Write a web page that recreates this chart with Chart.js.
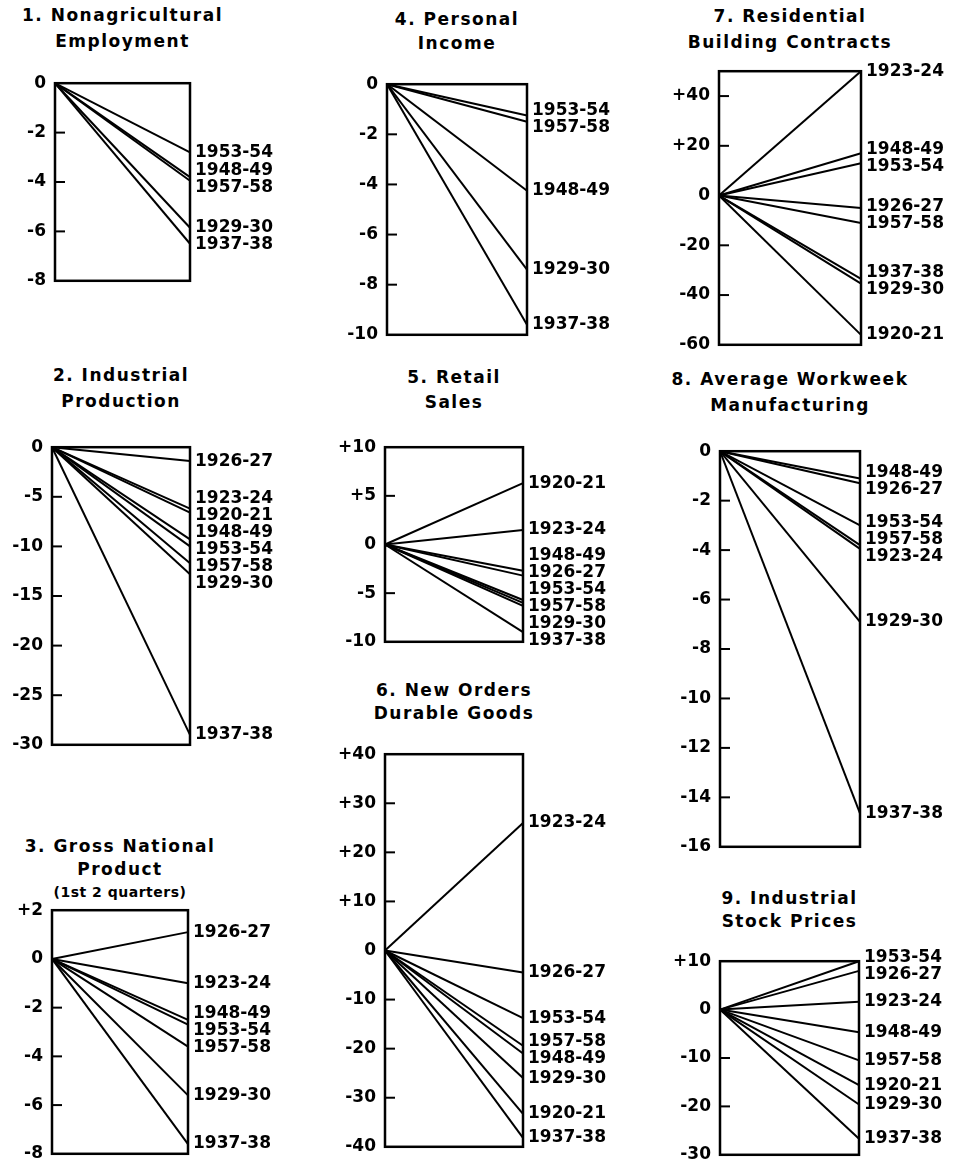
<!DOCTYPE html>
<html>
<head>
<meta charset="utf-8">
<script src="https://cdn.jsdelivr.net/npm/chart.js@4.4.1/dist/chart.umd.min.js"></script>
<style>
  body { margin: 0; background: #fff; width: 956px; height: 1170px; position: relative; overflow: hidden; }
  canvas { position: absolute; }
  .tline { position: absolute; width: 320px; text-align: center; font-family: "DejaVu Sans", sans-serif;
           font-weight: bold; font-size: 17px; line-height: 20px; letter-spacing: 1.5px; color: #000; white-space: nowrap; }
  .tline.small { font-size: 14px; letter-spacing: 0.5px; }
</style>
</head>
<body>
<script>
// 1. Nonagricultural Employment
const employmentPeriods = ['1953-54', '1948-49', '1957-58', '1929-30', '1937-38'];
const employmentChange = [-2.8, -3.8, -3.95, -5.85, -6.5];
const employmentTicks = [0, -2, -4, -6, -8];

// 2. Industrial Production
const productionPeriods = ['1926-27', '1923-24', '1920-21', '1948-49', '1953-54', '1957-58', '1929-30', '1937-38'];
const productionChange = [-1.4, -6.2, -6.6, -9.3, -10, -11.7, -12.8, -29];
const productionTicks = [0, -5, -10, -15, -20, -25, -30];

// 3. Gross National Product (1st 2 quarters)
const gnpPeriods = ['1926-27', '1923-24', '1948-49', '1953-54', '1957-58', '1929-30', '1937-38'];
const gnpChange = [1.1, -1.0, -2.5, -2.7, -3.6, -5.6, -7.6];
const gnpTicks = [2, 0, -2, -4, -6, -8];

// 4. Personal Income
const incomePeriods = ['1953-54', '1957-58', '1948-49', '1929-30', '1937-38'];
const incomeChange = [-1.25, -1.5, -4.25, -7.4, -9.6];
const incomeTicks = [0, -2, -4, -6, -8, -10];

// 5. Retail Sales
const retailPeriods = ['1920-21', '1923-24', '1948-49', '1926-27', '1953-54', '1957-58', '1929-30', '1937-38'];
const retailChange = [6.3, 1.5, -2.7, -3.2, -5.7, -6.0, -6.3, -9.0];
const retailTicks = [10, 5, 0, -5, -10];

// 6. New Orders Durable Goods
const ordersPeriods = ['1923-24', '1926-27', '1953-54', '1957-58', '1948-49', '1929-30', '1920-21', '1937-38'];
const ordersChange = [26, -4.5, -13.8, -19.4, -21, -26, -33.3, -38.2];
const ordersTicks = [40, 30, 20, 10, 0, -10, -20, -30, -40];

// 7. Residential Building Contracts
const residentialPeriods = ['1923-24', '1948-49', '1953-54', '1926-27', '1957-58', '1937-38', '1929-30', '1920-21'];
const residentialChange = [50, 17, 13, -5, -11, -33.5, -35.4, -56];
const residentialTicks = [40, 20, 0, -20, -40, -60];

// 8. Average Workweek Manufacturing
const workweekPeriods = ['1948-49', '1926-27', '1953-54', '1957-58', '1923-24', '1929-30', '1937-38'];
const workweekChange = [-1.1, -1.3, -3.0, -3.8, -3.95, -6.9, -14.65];
const workweekTicks = [0, -2, -4, -6, -8, -10, -12, -14, -16];

// 9. Industrial Stock Prices
const stockPeriods = ['1953-54', '1926-27', '1923-24', '1948-49', '1957-58', '1920-21', '1929-30', '1937-38'];
const stockChange = [10, 8, 1.6, -4.7, -10.5, -15.6, -19.6, -26.7];
const stockTicks = [10, 0, -10, -20, -30];

// panel list: data + where the box sits on the page
const panels = [
  { title: ['1. Nonagricultural', 'Employment'], titleY: [15, 41], periods: employmentPeriods, values: employmentChange, ticks: employmentTicks, min: -8, max: 0, box: [55, 190, 78, 286] },
  { title: ['2. Industrial', 'Production'], titleY: [375, 401], periods: productionPeriods, values: productionChange, ticks: productionTicks, min: -30, max: 0, box: [52, 190, 442, 750] },
  { title: ['3. Gross National', 'Product', '(1st 2 quarters)'], titleY: [846, 869, 892], periods: gnpPeriods, values: gnpChange, ticks: gnpTicks, min: -8, max: 2, box: [52, 188, 905, 1159] },
  { title: ['4. Personal', 'Income'], titleY: [19, 43], periods: incomePeriods, values: incomeChange, ticks: incomeTicks, min: -10, max: 0, box: [387, 527, 79, 340] },
  { title: ['5. Retail', 'Sales'], titleY: [377, 402], periods: retailPeriods, values: retailChange, ticks: retailTicks, min: -10, max: 10, box: [385, 523, 442, 647] },
  { title: ['6. New Orders', 'Durable Goods'], titleY: [690, 713], periods: ordersPeriods, values: ordersChange, ticks: ordersTicks, min: -40, max: 40, box: [385, 523, 749, 1152] },
  { title: ['7. Residential', 'Building Contracts'], titleY: [16, 42], periods: residentialPeriods, values: residentialChange, ticks: residentialTicks, min: -60, max: 50, box: [719, 861, 66, 350] },
  { title: ['8. Average Workweek', 'Manufacturing'], titleY: [379, 405], periods: workweekPeriods, values: workweekChange, ticks: workweekTicks, min: -16, max: 0, box: [720, 860, 446, 852] },
  { title: ['9. Industrial', 'Stock Prices'], titleY: [898, 921], periods: stockPeriods, values: stockChange, ticks: stockTicks, min: -30, max: 10, box: [720, 859, 956, 1160] }
];

const AXIS_W = 60, PAD_V = 14, PAD_R = 90, LABEL_GAP = 17;
const FONT = '"DejaVu Sans", sans-serif';

// spread end labels so they don't overlap: merge overlapping groups around their mean
function spreadLabels(targets, gap) {
  const order = targets.map((t, i) => i).sort((a, b) => targets[a] - targets[b]);
  let groups = order.map(i => ({ items: [i], center: targets[i] }));
  let merged = true;
  while (merged) {
    merged = false;
    for (let k = 0; k < groups.length - 1; k++) {
      const a = groups[k], b = groups[k + 1];
      const aBottom = a.center + (a.items.length - 1) * gap / 2;
      const bTop = b.center - (b.items.length - 1) * gap / 2;
      if (bTop - aBottom < gap) {
        const items = a.items.concat(b.items);
        const center = items.reduce((s, i) => s + targets[i], 0) / items.length;
        groups.splice(k, 2, { items: items, center: center });
        merged = true;
        break;
      }
    }
  }
  const pos = [];
  groups.forEach(g => {
    g.items.forEach((i, k) => { pos[i] = g.center + (k - (g.items.length - 1) / 2) * gap; });
  });
  return pos;
}

// box, inner tick marks and the period labels at the right end
const decorPlugin = {
  id: 'decor',
  afterDatasetsDraw(chart) {
    const ctx = chart.ctx;
    const area = chart.chartArea;
    const y = chart.scales.y;
    ctx.save();
    ctx.strokeStyle = '#000';
    ctx.lineWidth = 2;
    y.ticks.forEach(t => {
      if (t.value === y.min || t.value === y.max || t.value === 0) return;
      const py = y.getPixelForValue(t.value);
      ctx.beginPath();
      ctx.moveTo(area.left, py);
      ctx.lineTo(area.left + 10, py);
      ctx.stroke();
    });
    ctx.lineWidth = 2.5;
    ctx.strokeRect(area.left, area.top, area.right - area.left, area.bottom - area.top);

    const sets = chart.data.datasets;
    const targets = sets.map(ds => y.getPixelForValue(ds.data[1]));
    const pos = spreadLabels(targets, LABEL_GAP);
    ctx.fillStyle = '#000';
    ctx.font = 'bold 17px ' + FONT;
    ctx.textAlign = 'left';
    ctx.textBaseline = 'middle';
    sets.forEach((ds, i) => ctx.fillText(ds.label, area.right + 5, pos[i]));
    ctx.restore();
  }
};

function fmtTick(v) {
  if (v > 0) return '+' + v;
  if (v < 0) return '-' + Math.abs(v);
  return '0';
}

panels.forEach(p => {
  const [left, right, top, bottom] = p.box;

  p.title.forEach((line, i) => {
    const d = document.createElement('div');
    d.className = 'tline' + (i === 2 ? ' small' : '');
    d.textContent = line;
    d.style.left = ((left + right) / 2 - 160) + 'px';
    d.style.top = (p.titleY[i] - 10) + 'px';
    document.body.appendChild(d);
  });

  const canvas = document.createElement('canvas');
  canvas.width = right - left + AXIS_W + PAD_R;
  canvas.height = bottom - top + PAD_V * 2;
  canvas.style.left = (left - AXIS_W) + 'px';
  canvas.style.top = (top - PAD_V) + 'px';
  document.body.appendChild(canvas);

  new Chart(canvas.getContext('2d'), {
    type: 'line',
    data: {
      labels: ['start', 'end'],
      datasets: p.periods.map((name, i) => ({
        label: name,
        data: [0, p.values[i]],
        borderColor: '#000',
        borderWidth: 2,
        pointRadius: 0,
        tension: 0,
        fill: false
      }))
    },
    options: {
      responsive: false,
      devicePixelRatio: 1,
      animation: false,
      layout: { padding: { top: PAD_V, bottom: PAD_V, right: PAD_R, left: 0 } },
      plugins: { legend: { display: false }, tooltip: { enabled: false }, title: { display: false } },
      scales: {
        x: { display: false },
        y: {
          min: p.min,
          max: p.max,
          afterBuildTicks: scale => { scale.ticks = p.ticks.map(v => ({ value: v })); },
          afterFit: scale => { scale.width = AXIS_W; },
          grid: { display: false, drawTicks: false },
          border: { display: false },
          ticks: {
            padding: 9,
            color: '#000',
            font: { family: FONT, size: 17, weight: 'bold' },
            callback: v => fmtTick(v)
          }
        }
      }
    },
    plugins: [decorPlugin]
  });
});
</script>
</body>
</html>
